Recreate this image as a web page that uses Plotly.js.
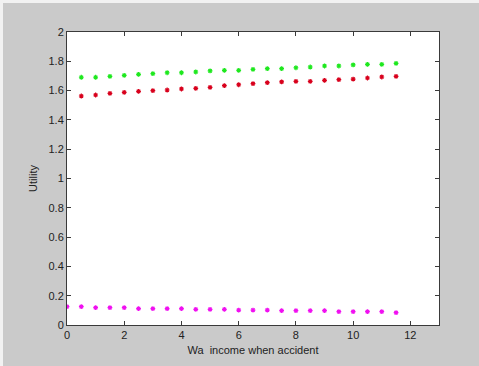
<!DOCTYPE html>
<html>
<head>
<meta charset="utf-8">
<script src="https://cdn.plot.ly/plotly-3.0.1.min.js"></script>
<style>
html,body{margin:0;padding:0;background:#cacaca;}
#wrap{position:relative;width:479px;height:366px;overflow:hidden;}
#chart{position:absolute;left:0;top:0;width:479px;height:366px;}
#edge{position:absolute;left:0;top:0;width:479px;height:366px;box-sizing:border-box;border-left:3px solid #f2f2f2;border-top:3px solid #f2f2f2;pointer-events:none;}
</style>
</head>
<body>
<div id="wrap"><div id="chart"></div><div id="edge"></div></div>
<script>
// Income when accident (Wa)
const xPink = [0,0.5,1,1.5,2,2.5,3,3.5,4,4.5,5,5.5,6,6.5,7,7.5,8,8.5,9,9.5,10,10.5,11,11.5];
const xUpper = [0.5,1,1.5,2,2.5,3,3.5,4,4.5,5,5.5,6,6.5,7,7.5,8,8.5,9,9.5,10,10.5,11,11.5];

const greenVals = [1.691,1.691,1.697,1.704,1.711,1.716,1.722,1.722,1.727,1.734,1.738,1.738,1.745,1.750,1.750,1.756,1.761,1.768,1.768,1.775,1.779,1.779,1.786];
const redVals = [1.563,1.570,1.581,1.588,1.595,1.600,1.604,1.611,1.615,1.622,1.634,1.640,1.647,1.654,1.659,1.663,1.663,1.670,1.675,1.679,1.686,1.693,1.697];
const pinkVals = [0.125,0.125,0.118,0.118,0.118,0.112,0.112,0.112,0.112,0.107,0.107,0.107,0.102,0.102,0.102,0.098,0.098,0.098,0.098,0.091,0.091,0.091,0.091,0.084];

const xTicks = [0,2,4,6,8,10,12];
const yTicks = [0,0.2,0.4,0.6,0.8,1,1.2,1.4,1.6,1.8,2];
const yTickText = ["0","0.2","0.4","0.6","0.8","1","1.2","1.4","1.6","1.8","2"];

function series(x, y, color){
  return {x:x, y:y, type:'scatter', mode:'markers', hoverinfo:'skip',
    marker:{symbol:'asterisk-open', size:4, color:color, line:{color:color, width:1.2}}};
}

const data = [
  series(xUpper, greenVals, '#1ee81e'),
  series(xUpper, redVals, '#d8001c'),
  series(xPink, pinkVals, '#f010f0')
];

const axCommon = {
  showgrid:false, zeroline:false, showline:true, linecolor:'#3a3a3a', linewidth:1,
  mirror:'ticks', ticks:'inside', ticklen:4, tickcolor:'#3a3a3a', tickwidth:1,
  tickfont:{family:'Liberation Sans, Arial, sans-serif', size:11, color:'#222'}
};

const layout = {
  width:479, height:366,
  margin:{l:67, r:40, t:32, b:41},
  paper_bgcolor:'#cacaca', plot_bgcolor:'#ffffff',
  showlegend:false,
  xaxis:Object.assign({}, axCommon, {
    range:[0,13], tickvals:xTicks, ticktext:xTicks.map(String),
    title:{text:'Wa  income when accident', standoff:6,
      font:{family:'Liberation Sans, Arial, sans-serif', size:11, color:'#222'}}
  }),
  yaxis:Object.assign({}, axCommon, {
    range:[0,2], tickvals:yTicks, ticktext:yTickText,
    title:{text:'Utility', standoff:8,
      font:{family:'Liberation Sans, Arial, sans-serif', size:11, color:'#222'}}
  })
};

Plotly.newPlot('chart', data, layout, {staticPlot:true, displayModeBar:false});
</script>
</body>
</html>
